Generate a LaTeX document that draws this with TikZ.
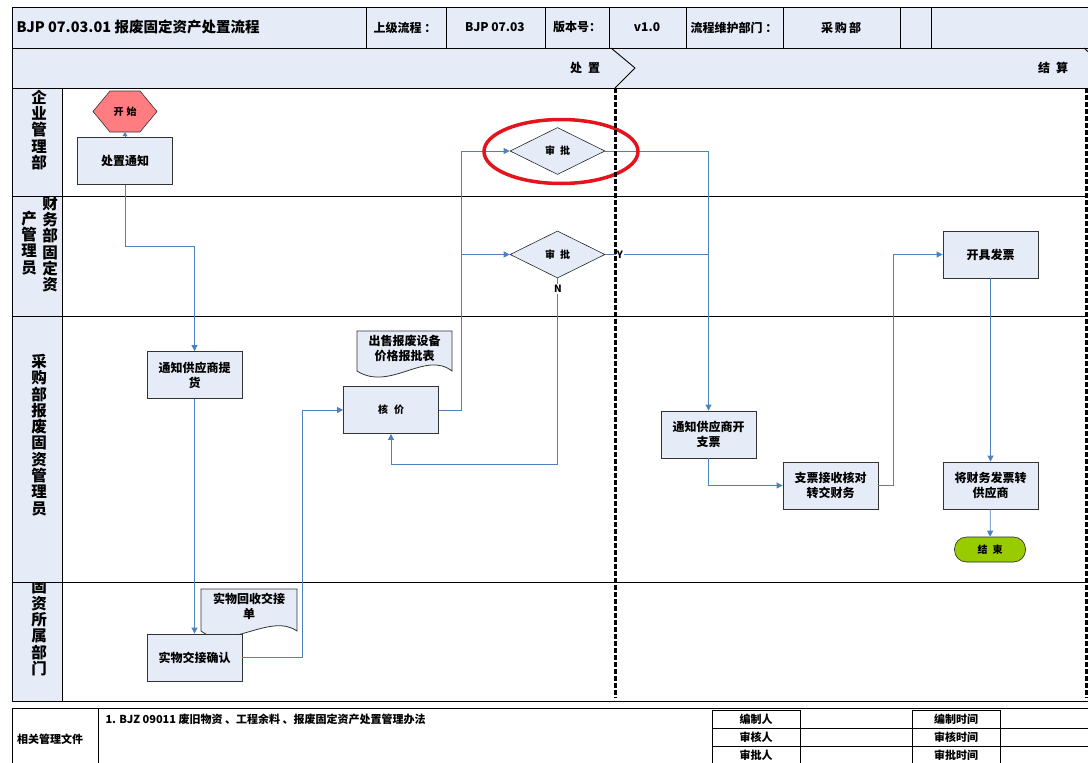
\documentclass[tikz,border=0pt]{standalone}
\usepackage{fontspec}
\newfontfamily\cjk{Noto Sans CJK SC}
\usetikzlibrary{shapes.geometric,arrows.meta,calc,positioning}

\definecolor{boxfill}{HTML}{E6ECF7}
\definecolor{flowblue}{HTML}{4F81BD}
\definecolor{startred}{HTML}{FF7C80}
\definecolor{endgreen}{HTML}{99CC00}
\definecolor{ringred}{HTML}{E3141B}

\begin{document}
\begin{tikzpicture}[x=1pt,y=-1pt,>={Triangle[length=6pt,width=6pt]},
  font=\cjk\bfseries\fontsize{12}{15}\selectfont,
  grid/.style={draw=black,line width=0.9pt},
  cell/.style={grid,fill=boxfill},
  taskbox/.style={draw=black!80,line width=0.8pt,fill=boxfill,minimum width=95pt,minimum height=47pt,inner sep=2pt,align=center},
  gate/.style={diamond,aspect=2,draw=black!85,line width=0.6pt,fill=boxfill,minimum width=95pt,minimum height=47pt,inner sep=0pt},
  docbox/.style={draw=black!80,line width=0.8pt,fill=boxfill},
  flow/.style={draw=flowblue,line width=0.8pt,->},
  link/.style={draw=flowblue,line width=0.8pt},
  lanelab/.style={font=\cjk\bfseries\fontsize{15.5}{16.3}\selectfont,align=center,inner sep=0pt},
  small/.style={font=\cjk\bfseries\fontsize{10}{12}\selectfont},
  foot/.style={font=\cjk\bfseries\fontsize{11}{13}\selectfont},
  phaseline/.style={line width=3pt,dash pattern=on 4.5pt off 2.5pt}]
\useasboundingbox (0,0) rectangle (1088,763);

\draw[cell] (12,7) rectangle (1100,48);
\foreach \x in {366,446,545,609,686,783,900,931}
  \draw[grid] (\x,7) -- (\x,48);
\draw[cell] (12,48) rectangle (1100,88);
\draw[grid] (611,48) -- (635,68) -- (615,88);
\draw[grid] (1084,48) -- (1094,57);
\node[anchor=west,font=\cjk\bfseries\fontsize{14.5}{16}\selectfont] (title) at (13,27.5) {BJP 07.03.01 报废固定资产处置流程};
\node (uplabel) at (405,27.5) {上级流程 ：};
\node (upval) at (495,27.5) {BJP 07.03};
\node (verlabel) at (577,27.5) {版本号：};
\node (verval) at (647,27.5) {v1.0};
\node (ownlabel) at (734,27.5) {流程维护部门 ：};
\node (ownval) at (841,27.5) {采\hspace{2pt}购\hspace{2pt}部};
\node (phase1) at (585,67.5) {处\hspace{6pt}置};
\node (phase2) at (1053,67.5) {结\hspace{6pt}算};

\fill[boxfill] (12,88) rectangle (62,701);
\foreach \y in {88,196,316,582,701}
  \draw[grid] (12,\y) -- (1100,\y);
\draw[grid] (12,88) -- (12,701);
\draw[grid] (62,88) -- (62,701);
\node[lanelab] (lane1) at (39,130) {企\\业\\管\\理\\部};
\begin{scope}
\clip (12,196) rectangle (62,316);
\node[lanelab] (lane2a) at (50,244) {财\\务\\部\\固\\定\\资};
\node[lanelab] (lane2b) at (29,243) {产\\管\\理\\员};
\end{scope}
\node[lanelab] (lane3) at (39,435) {采\\购\\部\\报\\废\\固\\资\\管\\理\\员};
\begin{scope}
\clip (12,582) rectangle (62,701);
\node[lanelab] (lane4) at (39,628) {固\\资\\所\\属\\部\\门};
\end{scope}

\draw[fill=startred,draw=black!80,line width=0.6pt] (93,111.5) -- (110,91) -- (140,91) -- (157,111.5) -- (140,132) -- (110,132) -- cycle;
\node[small,minimum width=64pt,minimum height=41pt,inner sep=0pt] (start) at (125,111.5) {开\hspace{3pt}始};
\node[taskbox] (notice) at (125,161) {处置通知};
\node[taskbox] (supply) at (194.5,375) {通知供应商提\\货};
\draw[docbox] (357,371) -- (357,331) -- (452,331) -- (452,371) .. controls (425,350) and (390,392) .. (357,371) -- cycle;
\node[align=center] (sellform) at (404.5,348) {出售报废设备\\价格报批表};
\node[taskbox,small] (price) at (391,410) {核\hspace{6pt}价};
\draw[docbox] (201,631) -- (201,589) -- (297,589) -- (297,631) .. controls (270,612) and (228,652) .. (201,631) -- cycle;
\node[align=center] (recvform) at (249,606) {实物回收交接\\单};
\node[taskbox] (handover) at (194.5,657.5) {实物交接确认};
\node[gate,small] (d1) at (557.5,151) {审\hspace{5pt}批};
\node[gate,small] (d2) at (557.5,254.5) {审\hspace{5pt}批};
\node[taskbox] (notify) at (708.5,434.5) {通知供应商开\\支票};
\node[taskbox] (check) at (830.5,485.5) {支票接收核对\\转交财务};
\node[taskbox] (invoice) at (990.5,254.5) {开具发票};
\node[taskbox] (forward) at (990.5,485.5) {将财务发票转\\供应商};
\node[small,draw=black!85,fill=endgreen,rounded corners=12pt,minimum width=71pt,minimum height=25pt,line width=0.6pt] (finish) at (990,549.5) {结\hspace{5pt}束};

\coordinate (bend1) at (125,246);
\coordinate (trunk) at (461,151);
\draw[flow,-{Triangle[length=4pt,width=5pt]}] (notice.north) -- (start.south);
\draw[flow] (notice.south) -- (bend1) -| (supply.north);
\draw[flow] (supply) -- (handover);
\draw[flow] (handover.east) -- ++(60,0) |- (price.west);
\draw[flow] (price.east) -| (trunk) -- (d1.west);
\draw[flow] (trunk |- d2.west) -- (d2.west);
\draw[flow] (d2.south) -- ++(0,186) -| (price.south);
\node[small,fill=white,inner sep=1pt] (nlabel) at (558,289) {N};
\draw[flow] (d1.east) -| (notify.north);
\draw[link] (d2.east) -- (d2.east -| notify.north);
\node[small,fill=white,inner sep=1pt] (ylabel) at (620,254.5) {Y};
\draw[flow] (notify.south) |- (check.west);
\draw[flow] (check.east) -- ++(15,0) |- (invoice.west);
\draw[flow] (invoice) -- (forward);
\draw[flow] (forward) -- (finish);

\draw[ringred,line width=3.5pt] (561,151.5) ellipse [x radius=77pt,y radius=32pt];
\draw[phaseline] (615,88) -- (615,698);
\draw[phaseline] (1086,88) -- (1086,698);

\draw[grid] (12,708) rectangle (1100,780);
\draw[grid] (98,708) -- (98,780);
\node[foot] (docs) at (50,739) {相关管理文件};
\node[anchor=west,foot] (doclist) at (102,719) {1. BJZ 09011 废旧物资 、工程余料 、报废固定资产处置管理办法};
\draw[line width=0.6pt] (712,710) rectangle (800,775) (912,710) rectangle (1000,775);
\draw[line width=0.6pt] (712,728) -- (1100,728) (712,746) -- (1100,746);
\foreach \x/\a/\b/\c in {756/编制人/审核人/审批人,956/编制时间/审核时间/审批时间} {
  \node[foot] at (\x,719) {\a};
  \node[foot] at (\x,737) {\b};
  \node[foot] at (\x,755.5) {\c};
}
\end{tikzpicture}
\end{document}
